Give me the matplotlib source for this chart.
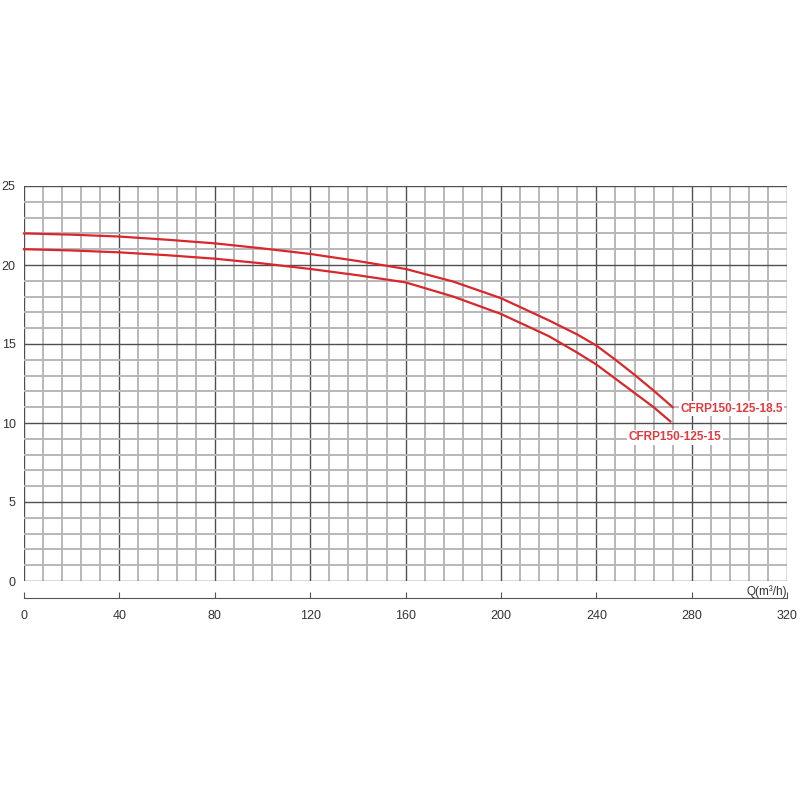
import matplotlib.pyplot as plt
from matplotlib.ticker import MultipleLocator

# pump curves
q_185 = [0, 20, 40, 60, 80, 100, 120, 140, 160, 180, 200, 220, 232, 240, 248, 256, 264, 272]
h_185 = [22.0, 21.92, 21.8, 21.6, 21.37, 21.05, 20.7, 20.25, 19.75, 18.95, 17.9, 16.5, 15.6, 14.9, 14.0, 13.05, 12.05, 11.0]
q_15 = [0, 20, 40, 60, 80, 100, 120, 140, 160, 180, 200, 220, 232, 240, 248, 256, 264, 271]
h_15 = [21.0, 20.92, 20.8, 20.62, 20.4, 20.1, 19.75, 19.35, 18.9, 18.0, 16.9, 15.5, 14.45, 13.7, 12.8, 11.9, 11.0, 10.1]
name_185 = 'CFRP150-125-18.5'
name_15 = 'CFRP150-125-15'

plt.rcParams['font.family'] = ['Liberation Sans', 'DejaVu Sans']

fig = plt.figure(figsize=(8, 8), dpi=100)
ax = fig.add_axes([0.03, 0.27375, 0.954, 0.49375])

ax.set_xlim(0, 320)
ax.set_ylim(0, 25)
ax.xaxis.set_major_locator(MultipleLocator(40))
ax.xaxis.set_minor_locator(MultipleLocator(8))
ax.yaxis.set_major_locator(MultipleLocator(5))
ax.yaxis.set_minor_locator(MultipleLocator(1))

ax.grid(which='minor', color='#b8b8b8', linewidth=1.4)
ax.grid(which='major', color='#505050', linewidth=1.0)
ax.set_axisbelow(True)

for s in ['top', 'right', 'left']:
    ax.spines[s].set_visible(False)
ax.spines['bottom'].set_position(('outward', 12))
ax.spines['bottom'].set_color('#555555')
ax.spines['bottom'].set_bounds(0, 320)

ax.tick_params(axis='x', which='major', direction='in', length=4, color='#555555',
               labelsize=9, labelcolor='#333333', pad=9)
ax.tick_params(axis='x', which='minor', length=0)
ax.tick_params(axis='y', which='both', length=0, labelsize=9, labelcolor='#333333', pad=6)

ax.plot(q_185, h_185, color='#d8282c', linewidth=1.6, clip_on=False)
ax.plot(q_15, h_15, color='#d8282c', linewidth=1.6, clip_on=False)

lbl = dict(color='#e0393e', fontsize=8.5, fontweight='bold', va='center', ha='left',
           bbox=dict(facecolor='white', edgecolor='none', pad=1))
ax.text(275.2, 10.9, name_185, **lbl)
ax.text(253.4, 9.1, name_15, **lbl)

ax.annotate('Q(m³/h)', xy=(320, 0), xytext=(0, -3), textcoords='offset points',
            ha='right', va='top', fontsize=8.5, color='#333333')

fig.savefig('out.png', dpi=100)
